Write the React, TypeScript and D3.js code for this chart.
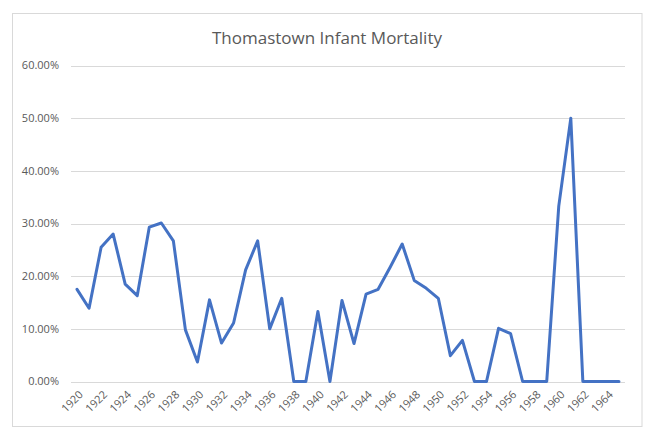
import React from "react";
import * as d3 from "d3";

const years: number[] = [
  1920, 1921, 1922, 1923, 1924, 1925, 1926, 1927, 1928, 1929,
  1930, 1931, 1932, 1933, 1934, 1935, 1936, 1937, 1938, 1939,
  1940, 1941, 1942, 1943, 1944, 1945, 1946, 1947, 1948, 1949,
  1950, 1951, 1952, 1953, 1954, 1955, 1956, 1957, 1958, 1959,
  1960, 1961, 1962, 1963, 1964, 1965,
];

const mortality: number[] = [
  0.175, 0.139, 0.255, 0.28, 0.185, 0.163, 0.293, 0.301, 0.267, 0.098,
  0.037, 0.155, 0.073, 0.111, 0.212, 0.267, 0.1, 0.158, 0, 0,
  0.133, 0, 0.154, 0.072, 0.166, 0.175, 0.217, 0.261, 0.192, 0.177,
  0.158, 0.049, 0.078, 0, 0, 0.101, 0.091, 0, 0, 0,
  0.333, 0.5, 0, 0, 0, 0,
];

const yTicks: number[] = [0, 0.1, 0.2, 0.3, 0.4, 0.5, 0.6];
const xTickLabels: number[] = years.filter((y) => y % 2 === 0);
const title = "Thomastown Infant Mortality";

export default function App() {
  const W = 650;
  const H = 445;
  const left = 71;
  const right = 625;
  const top = 65.5;
  const bottom = 381.5;

  const x = d3
    .scaleBand<number>()
    .domain(years)
    .range([left, right])
    .padding(0);
  const y = d3.scaleLinear().domain([0, 0.6]).range([bottom, top]);
  const cx = (yr: number) => (x(yr) as number) + x.bandwidth() / 2;

  const line = d3
    .line<number>()
    .x((_, i) => cx(years[i]))
    .y((d) => y(d));

  const fmt = d3.format(".2%");
  const font = "'Open Sans', 'Noto Sans', sans-serif";

  return (
    <svg
      width={W}
      height={H}
      style={{ position: "absolute", left: 0, top: 0, background: "#fff" }}
    >
      <rect x={0} y={0} width={W} height={H} fill="#fff" />
      <rect
        x={12.5}
        y={13.5}
        width={629.5}
        height={413}
        fill="#fff"
        stroke="#D9D9D9"
        strokeWidth={1}
      />
      <text
        x={327}
        y={44}
        textAnchor="middle"
        fontFamily={font}
        fontSize={17}
        fill="#595959"
      >
        {title}
      </text>
      {yTicks.map((t) => (
        <g key={t}>
          <line
            x1={left}
            x2={right}
            y1={Math.round(y(t)) + 0.5}
            y2={Math.round(y(t)) + 0.5}
            stroke="#D9D9D9"
            strokeWidth={1}
          />
          <text
            x={59}
            y={y(t)}
            dy="0.35em"
            textAnchor="end"
            fontFamily={font}
            fontSize={11}
            fill="#595959"
          >
            {fmt(t)}
          </text>
        </g>
      ))}
      {xTickLabels.map((yr) => (
        <text
          key={yr}
          transform={`translate(${cx(yr) + 4},${bottom + 11}) rotate(-45)`}
          textAnchor="end"
          dy="0.35em"
          fontFamily={font}
          fontSize={11}
          fill="#595959"
        >
          {yr}
        </text>
      ))}
      <path
        d={line(mortality) || ""}
        fill="none"
        stroke="#4472C4"
        strokeWidth={3}
        strokeLinejoin="round"
        strokeLinecap="round"
      />
    </svg>
  );
}
